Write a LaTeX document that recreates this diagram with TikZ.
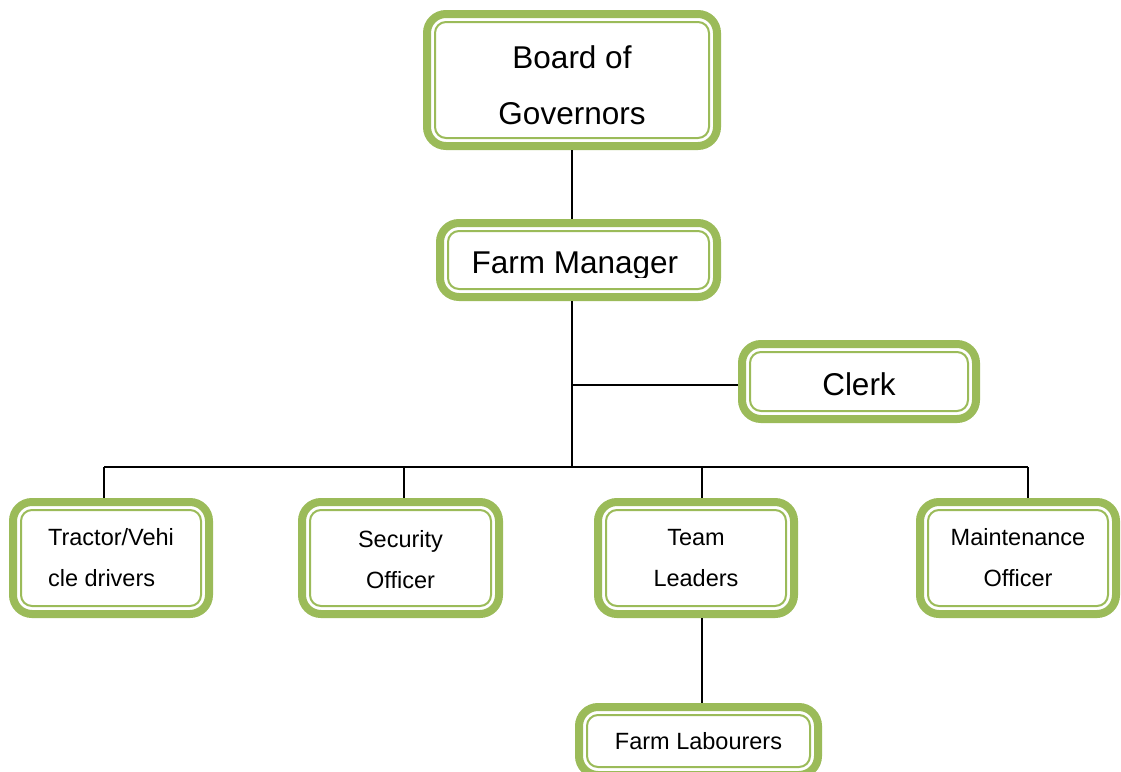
\documentclass[tikz,border=0pt]{standalone}
\usepackage{fontspec}
\setmainfont{Liberation Sans}
\definecolor{leaf}{HTML}{9BBB59}
\tikzset{
  orgbox/.style={draw=leaf, line width=8pt, rounded corners=19pt, fill=white,
                 inner sep=0pt, outer sep=4pt, align=center},
  bigtext/.style={font=\fontsize{31.5}{56}\selectfont},
  smalltext/.style={font=\fontsize{23.5}{41}\selectfont},
  innerline/.style={draw=leaf, line width=2pt, rounded corners=11pt},
  link/.style={draw=black, line width=1.8pt},
}
\begin{document}
\begin{tikzpicture}[x=1pt,y=-1pt]
\clip (0,0) rectangle (1121,771);
\fill[white] (0,0) rectangle (1121,771);

% boxes
\node[orgbox,bigtext,minimum width=290pt,minimum height=132pt] (board) at (572,80) {\rule{0pt}{33pt}Board of\\Governors};
\node[orgbox,minimum width=277pt,minimum height=74pt] (fm) at (578.5,260) {};
\node[orgbox,bigtext,minimum width=234pt,minimum height=75pt] (clerk) at (859,381.5) {\rule{0pt}{28pt}Clerk};
\node[orgbox,smalltext,align=left,minimum width=196pt,minimum height=112pt] (tractor) at (111,558) {Tractor/Vehi\\cle drivers};
\node[orgbox,smalltext,minimum width=197pt,minimum height=112pt] (security) at (400.5,558) {\rule{0pt}{20pt}Security\\Officer};
\node[orgbox,smalltext,minimum width=196pt,minimum height=112pt] (team) at (696,558) {Team\\Leaders};
\node[orgbox,smalltext,minimum width=196pt,minimum height=112pt] (maint) at (1018,558) {Maintenance\\Officer};
\node[orgbox,smalltext,minimum width=239pt,minimum height=68pt] (lab) at (698.5,741) {Farm Labourers};

% inner thin frame of every box
\foreach \n in {board,fm,clerk,tractor,security,team,maint,lab}
  \draw[innerline] ([shift={(12pt,12pt)}]\n.south west) rectangle ([shift={(-12pt,-12pt)}]\n.north east);

% manager title, cut off just below the baseline
\begin{scope}
  \clip (fm.north west) rectangle (fm.east |- 0,277);
  \node[bigtext,inner sep=0pt,anchor=base] (fmtext) at (575,273) {Farm Manager};
\end{scope}

% connectors
\coordinate (bus) at (572,467);
\coordinate (d1) at (104,467);
\coordinate (d2) at (404,467);
\coordinate (d3) at (702,467);
\coordinate (d4) at (1028,467);
\draw[link] (board.south) -- (board.south |- fm.north);
\draw[link] (board.south |- fm.south) -- (bus);
\draw[link] (board.south |- 0,385) -- ([yshift=-3.5pt]clerk.west);
\draw[link] (d1) -- (d4);
\draw[link] (d1) -- (d1 |- tractor.north);
\draw[link] (d2) -- (d2 |- security.north);
\draw[link] (d3) -- (d3 |- team.north);
\draw[link] (d4) -- (d4 |- maint.north);
\draw[link] (d3 |- team.south) -- (d3 |- lab.north);
\end{tikzpicture}
\end{document}
